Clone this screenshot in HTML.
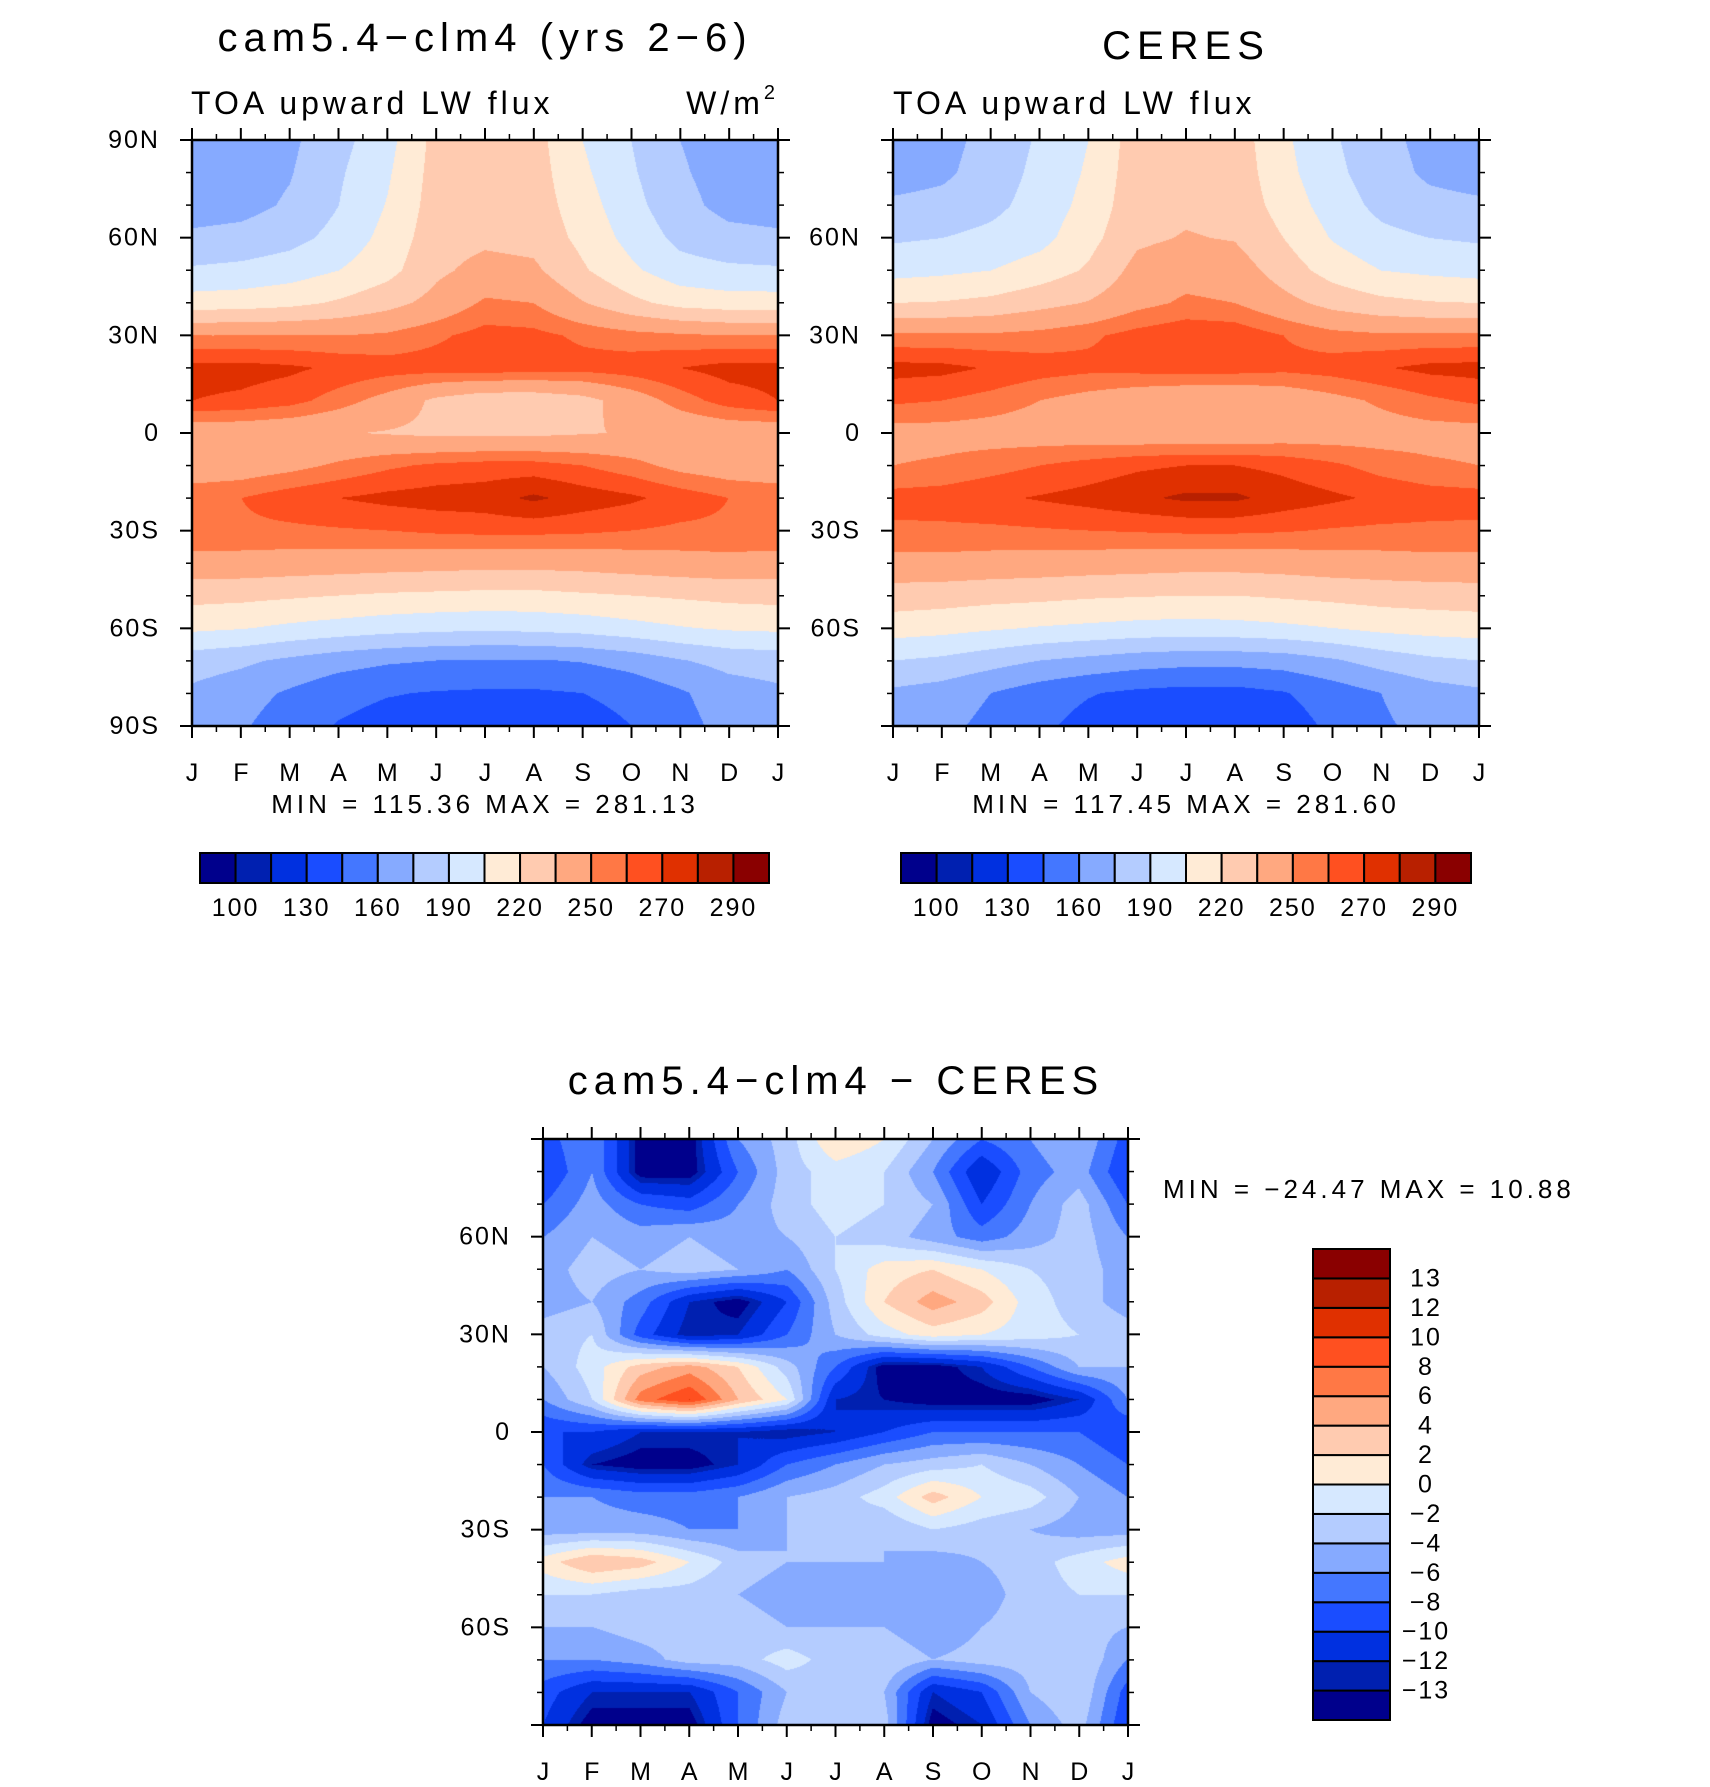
<!DOCTYPE html>
<html><head><meta charset="utf-8"><style>
html,body{margin:0;padding:0;background:#fff;}
#wrap{position:relative;width:1710px;height:1787px;overflow:hidden;font-family:"Liberation Sans",sans-serif;}
canvas{position:absolute;}
svg{position:absolute;left:0;top:0;}
text{font-family:"Liberation Sans",sans-serif;fill:#000;}
</style></head><body>
<div id="wrap">
<canvas id="c1"></canvas>
<canvas id="c2"></canvas>
<canvas id="c3"></canvas>
<svg id="ov" width="1710" height="1787"></svg>
</div>
<script>
// ---- data ----
const months = ['J','F','M','A','M','J','J','A','S','O','N','D','J'];
const lats = [90,80,70,60,50,40,30,20,10,0,-10,-20,-30,-40,-50,-60,-70,-80,-90];
const absLevels = [100,115,130,145,160,175,190,205,220,235,250,260,270,280,290];
const absLabels = ['100','130','160','190','220','250','270','290'];
const diffLevels = [-13,-12,-10,-8,-6,-4,-2,0,2,4,6,8,10,12,13];
const diffLabels = ['−13','−12','−10','−8','−6','−4','−2','0','2','4','6','8','10','12','13'];
const palette = ['#00008c','#0020b0','#0030e0','#1a4dff','#4477ff','#86aaff','#b4ccff','#d6e8ff','#ffebd6','#ffcbb0','#ffa880','#ff7845','#ff5020','#e03000','#b82000','#8a0000'];
const modelField = [
[165,167,172,185,200,225,228,226,205,190,175,167,165],
[166,168,174,188,203,226,229,227,208,192,177,168,166],
[168,170,177,190,206,227,230,228,212,195,180,170,168],
[178,180,185,195,210,229,232,230,216,200,186,180,178],
[192,194,198,205,215,232,240,238,222,208,196,193,192],
[212,213,216,222,230,240,252,250,236,224,215,212,212],
[250,250,250,250,252,258,264,263,258,254,252,250,250],
[274,274,272,268,265,265,266,265,264,266,270,274,274],
[270,268,264,255,245,232,225,225,230,242,255,265,270],
[240,240,238,236,234,232,232,232,234,236,238,240,240],
[240,242,246,252,258,262,264,264,260,254,246,242,240],
[258,260,266,270,273,275,276,282,276,272,266,260,258],
[258,258,258,259,260,262,263,263,262,260,258,258,258],
[245,245,244,243,242,241,240,240,241,243,245,246,245],
[225,224,222,220,218,217,216,216,218,220,222,224,225],
[208,206,202,199,196,194,193,194,196,200,204,207,208],
[182,178,172,166,162,160,159,159,161,166,174,180,182],
[172,166,158,150,146,144,143,143,145,150,158,168,172],
[168,162,152,144,139,137,136,136,138,145,155,165,168]];
const ceresField = [
[165,170,180,192,205,228,230,228,208,192,180,170,165],
[168,172,182,194,207,229,231,229,210,194,182,172,168],
[178,180,186,196,210,230,232,230,214,198,186,180,178],
[188,190,194,200,215,232,236,234,220,204,194,190,188],
[200,202,205,212,222,240,245,243,228,214,205,202,200],
[220,221,224,230,236,246,252,250,240,230,224,221,220],
[252,252,252,254,258,264,268,267,260,254,252,252,252],
[274,273,269,265,263,264,266,265,263,265,269,273,274],
[262,260,256,250,245,240,236,236,240,246,252,258,262],
[245,245,244,243,242,240,240,240,242,243,244,245,245],
[250,252,256,260,264,268,270,270,267,262,256,252,250],
[264,265,268,271,274,278,282,282,276,272,268,265,264],
[258,258,258,259,260,261,262,262,261,259,258,258,258],
[246,246,245,244,243,242,241,241,242,244,245,246,246],
[228,227,225,224,222,221,220,220,222,224,226,227,228],
[212,210,207,204,202,200,199,200,202,205,209,211,212],
[190,187,181,175,171,167,165,165,167,173,181,187,190],
[172,168,160,152,146,142,140,140,144,152,160,168,172],
[168,164,156,148,140,136,134,134,138,148,158,164,168]];
const diffField = [
[-9,-6,-14,-14,-6,-3,2,0,-4,-8,-6,-4,-9],
[-10,-6,-14,-14,-8,-3,-1,-2,-6,-12,-7,-5,-10],
[-8,-5,-8,-9,-6,-3,-1,-2,-4,-10,-6,-3,-8],
[-6,-4,-5,-4,-5,-4,-2,-3,-5,-7,-5,-3,-6],
[-5,-3,-4,-3,-4,-6,-2,1,2,0,-2,-3,-5],
[-5,-4,-7,-12,-14,-10,-3,2,5,3,-1,-3,-5],
[-3,-2,-9,-13,-12,-8,-4,-1,1,0,-1,-2,-3],
[-4,-1,3,5,2,-3,-8,-14,-14,-12,-8,-4,-4],
[-6,-2,7,10,4,0,-12,-13,-14,-14,-14,-12,-6],
[-10,-10,-12,-12,-12,-13,-12,-10,-8,-8,-8,-8,-10],
[-8,-13,-14,-14,-12,-8,-6,-4,-3,-2,-4,-6,-8],
[-6,-6,-7,-7,-6,-4,-3,-1,3,0,-1,-4,-6],
[-5,-5,-5,-6,-6,-4,-3,-4,-2,-3,-4,-5,-5],
[1,4,3,0,-3,-4,-4,-4,-5,-4,-3,-1,1],
[-2,-2,-3,-3,-4,-5,-6,-6,-6,-5,-3,-2,-2],
[-4,-4,-3,-3,-3,-4,-4,-4,-6,-4,-3,-3,-4],
[-6,-6,-5,-3,-3,-1,-3,-2,-4,-3,-3,-2,-6],
[-9,-12,-12,-12,-8,-4,-3,-4,-12,-10,-4,-2,-9],
[-10,-14,-14,-14,-8,-3,-2,-3,-14,-12,-6,-3,-10]];

// ---- helpers ----
function hex(c){return [parseInt(c.substr(1,2),16),parseInt(c.substr(3,2),16),parseInt(c.substr(5,2),16)];}
const palRGB = palette.map(hex);
function levelIndex(v,levels){let i=0;while(i<levels.length&&v>=levels[i])i++;return i;}
function drawField(id,field,levels,x0,y0,w,h){
  const cv=document.getElementById(id);
  cv.width=w;cv.height=h;cv.style.left=x0+'px';cv.style.top=y0+'px';
  const ctx=cv.getContext('2d');const img=ctx.createImageData(w,h);
  const nc=field[0].length-1, nr=field.length-1;
  for(let py=0;py<h;py++){
    const fy=py/(h-1)*nr;const r=Math.min(Math.floor(fy),nr-1);const ty=fy-r;
    for(let px=0;px<w;px++){
      const fx=px/(w-1)*nc;const c=Math.min(Math.floor(fx),nc-1);const tx=fx-c;
      const v=(field[r][c]*(1-tx)+field[r][c+1]*tx)*(1-ty)+(field[r+1][c]*(1-tx)+field[r+1][c+1]*tx)*ty;
      const col=palRGB[levelIndex(v,levels)];
      const k=(py*w+px)*4;img.data[k]=col[0];img.data[k+1]=col[1];img.data[k+2]=col[2];img.data[k+3]=255;
    }
  }
  ctx.putImageData(img,0,0);
}
const svg=document.getElementById('ov');const NS='http://www.w3.org/2000/svg';
function el(tag,attrs,txt){const e=document.createElementNS(NS,tag);for(const k in attrs)e.setAttribute(k,attrs[k]);if(txt!==undefined)e.textContent=txt;svg.appendChild(e);return e;}
function txt(x,y,s,size,anchor,name,ls){const t=el('text',{x:x,y:y,'font-size':size,'text-anchor':anchor||'middle','dominant-baseline':'central','letter-spacing':(ls===undefined?3:ls),'xml:space':'preserve'},s);

return t;}

function axes(x0,y0,w,h,latTicks,prefix){
  const f=el('rect',{x:x0,y:y0,width:w,height:h,fill:'none',stroke:'#000','stroke-width':2.5});
  
  
  const xs=v=>x0+v/12*w, ys=lat=>y0+(90-lat)/180*h;
  for(let i=0;i<months.length;i++){
    const x=xs(i);
    el('line',{x1:x,y1:y0+h,x2:x,y2:y0+h+12,stroke:'#000','stroke-width':2});
    el('line',{x1:x,y1:y0,x2:x,y2:y0-12,stroke:'#000','stroke-width':2});
    if(i<12){el('line',{x1:x+w/24,y1:y0+h,x2:x+w/24,y2:y0+h+6,stroke:'#000','stroke-width':1.5});
             el('line',{x1:x+w/24,y1:y0,x2:x+w/24,y2:y0-6,stroke:'#000','stroke-width':1.5});}
    txt(x,y0+h+47,months[i],25,'middle',prefix+'-month-label',0);
  }
  for(let lat=-90;lat<=90;lat+=10){
    const y=ys(lat);const major=lat%30===0;const L=major?12:6;
    el('line',{x1:x0,y1:y,x2:x0-L,y2:y,stroke:'#000','stroke-width':major?2:1.5});
    el('line',{x1:x0+w,y1:y,x2:x0+w+L,y2:y,stroke:'#000','stroke-width':major?2:1.5});
  }
  latTicks.forEach(lat=>{const s=lat===0?'0':(Math.abs(lat)+(lat>0?'N':'S'));
    txt(x0-32,ys(lat),s,25,'end',prefix+'-lat-label',2);});
}
function hbar(x0,y0,w,h,levels,labels,prefix){
  const n=palette.length,bw=w/n;
  for(let i=0;i<n;i++){const r=el('rect',{x:x0+i*bw,y:y0,width:bw,height:h,fill:palette[i],stroke:'#000','stroke-width':2});
    
    }
  for(let j=0;j<labels.length;j++){const li=j*2;txt(x0+(li+1)*bw,y0+h+25,labels[j],25,'middle',prefix+'-colorbar-label',2);}
}
function vbar(x0,y0,w,h,labels,prefix){
  const n=palette.length,bh=h/n;
  for(let i=0;i<n;i++){const r=el('rect',{x:x0,y:y0+(n-1-i)*bh,width:w,height:bh,fill:palette[i],stroke:'#000','stroke-width':2});
    
    }
  for(let j=0;j<labels.length;j++){txt(x0+w+36,y0+(n-1-j)*bh,labels[j],25,'middle',prefix+'-colorbar-label',2);}
}

// ---- panels ----
const P1={x:192,y:140,w:586,h:586}, P2={x:893,y:140,w:586,h:586}, P3={x:543,y:1139,w:585,h:586};
drawField('c1',modelField,absLevels,P1.x,P1.y,P1.w,P1.h);
drawField('c2',ceresField,absLevels,P2.x,P2.y,P2.w,P2.h);
drawField('c3',diffField,diffLevels,P3.x,P3.y,P3.w,P3.h);
axes(P1.x,P1.y,P1.w,P1.h,[90,60,30,0,-30,-60,-90],'model');
axes(P2.x,P2.y,P2.w,P2.h,[60,30,0,-30,-60],'ceres');
axes(P3.x,P3.y,P3.w,P3.h,[60,30,0,-30,-60],'diff');

txt(485,38,'cam5.4−clm4 (yrs 2−6)',40,'middle','model-title',6);
txt(1186,46,'CERES',40,'middle','ceres-title',6);
txt(191,103,'TOA upward LW flux',32,'start','model-subtitle',4);
txt(893,103,'TOA upward LW flux',32,'start','ceres-subtitle',4);
const u=txt(779,103,'W/m',32,'end','units-label',4);
const sup=document.createElementNS(NS,'tspan');sup.setAttribute('font-size','20');sup.setAttribute('dy','-10');sup.textContent='2';u.appendChild(sup);
txt(485,804,'MIN = 115.36 MAX = 281.13',26,'middle','model-minmax',4);
txt(1186,804,'MIN = 117.45 MAX = 281.60',26,'middle','ceres-minmax',4);
hbar(200,853,569,30,absLevels,absLabels,'model');
hbar(901,853,570,30,absLevels,absLabels,'ceres');
txt(836,1081,'cam5.4−clm4 − CERES',40,'middle','diff-title',6);
txt(1163,1189,'MIN = −24.47 MAX =   10.88',26,'start','diff-minmax',4);
vbar(1313,1249,77,471,diffLabels,'diff');
</script>
</body></html>
